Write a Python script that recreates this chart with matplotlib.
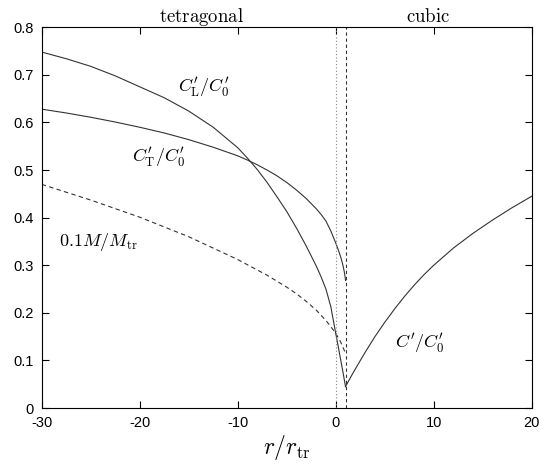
import matplotlib
matplotlib.use('Agg')
import matplotlib.pyplot as plt

plt.rcParams['mathtext.fontset'] = 'cm'
plt.rcParams['font.family'] = ['Liberation Sans', 'DejaVu Sans']
plt.rcParams['axes.unicode_minus'] = False

# values
cl_x = [-30, -27.5, -25, -22.5, -20, -17.5, -15, -12.5, -10, -9, -8, -7, -6, -5, -4, -3, -2,
        -1.5, -1, -0.5, 0, 0.25, 0.5, 0.75, 1]
cl_y = [0.748, 0.734, 0.718, 0.698, 0.675, 0.652, 0.624, 0.590, 0.547, 0.525, 0.501, 0.474,
        0.444, 0.413, 0.378, 0.340, 0.299, 0.276, 0.250, 0.213, 0.157, 0.130, 0.102, 0.074, 0.045]

ct_x = [-30, -27.5, -25, -22.5, -20, -17.5, -15, -12.5, -10, -9, -8, -7, -6, -5, -4, -3, -2,
        -1.5, -1, -0.5, 0, 0.25, 0.5, 0.7, 0.85, 0.95, 1]
ct_y = [0.628, 0.620, 0.611, 0.601, 0.590, 0.578, 0.564, 0.548, 0.530, 0.521, 0.511, 0.500,
        0.488, 0.474, 0.458, 0.440, 0.419, 0.407, 0.393, 0.372, 0.347, 0.333, 0.318, 0.303,
        0.289, 0.277, 0.268]

m_x = [-30, -25, -20, -15, -10, -7, -5, -4, -3, -2, -1, -0.5, 0, 0.5, 1]
m_y = [0.470, 0.437, 0.401, 0.360, 0.312, 0.279, 0.254, 0.240, 0.224, 0.206, 0.184, 0.171,
       0.157, 0.139, 0.115]

cub_x = [1, 1.5, 2, 3, 4, 5, 6, 7, 8, 9, 10, 12, 14, 16, 18, 20]
cub_y = [0.045, 0.064, 0.082, 0.117, 0.150, 0.180, 0.208, 0.234, 0.258, 0.280, 0.300, 0.336,
         0.367, 0.395, 0.421, 0.445]

x_ticks = [-30, -20, -10, 0, 10, 20]
y_ticks = [0, 0.1, 0.2, 0.3, 0.4, 0.5, 0.6, 0.7, 0.8]
y_tick_labels = ['0', '0.1', '0.2', '0.3', '0.4', '0.5', '0.6', '0.7', '0.8']

fig = plt.figure(figsize=(5.39, 4.75), dpi=100)
ax = fig.add_axes([0.0774, 0.141, 0.9091, 0.8015])

lc = '#333333'
ax.plot(cl_x, cl_y, color=lc, lw=0.8)
ax.plot(ct_x, ct_y, color=lc, lw=0.8)
ax.plot(m_x, m_y, color=lc, lw=0.8, ls=(0, (4, 3)))
ax.plot(cub_x, cub_y, color=lc, lw=0.8)

# phase boundary markers
ax.axvline(0, color='#888888', lw=0.8, ls=(0, (1, 2)))
ax.axvline(1, color=lc, lw=0.8, ls=(0, (3, 2.5)))

ax.set_xlim(-30, 20)
ax.set_ylim(0, 0.8)
ax.set_xticks(x_ticks)
ax.set_yticks(y_ticks)
ax.set_yticklabels(y_tick_labels)
ax.tick_params(direction='in', top=True, right=True, length=5, width=0.8,
               labelsize=10.5, pad=6)
for s in ax.spines.values():
    s.set_linewidth(0.8)

ax.set_xlabel(r'$r/r_{\rm tr}$', fontsize=17, labelpad=2)

ax.text(-13.5, 0.675, r"$C_{\rm L}^{\prime}/C_0^{\prime}$", fontsize=13, ha='center', va='center')
ax.text(-18.1, 0.527, r"$C_{\rm T}^{\prime}/C_0^{\prime}$", fontsize=13, ha='center', va='center')
ax.text(-24.2, 0.349, r"$0.1M/M_{\rm tr}$", fontsize=13, ha='center', va='center')
ax.text(8.6, 0.136, r"$C^{\prime}/C_0^{\prime}$", fontsize=13, ha='center', va='center')

ax.text(-13.7, 0.812, r"$\rm tetragonal$", fontsize=13.5, ha='center', va='baseline')
ax.text(9.4, 0.812, r"$\rm cubic$", fontsize=13.5, ha='center', va='baseline')

fig.savefig('out.png', dpi=100)
